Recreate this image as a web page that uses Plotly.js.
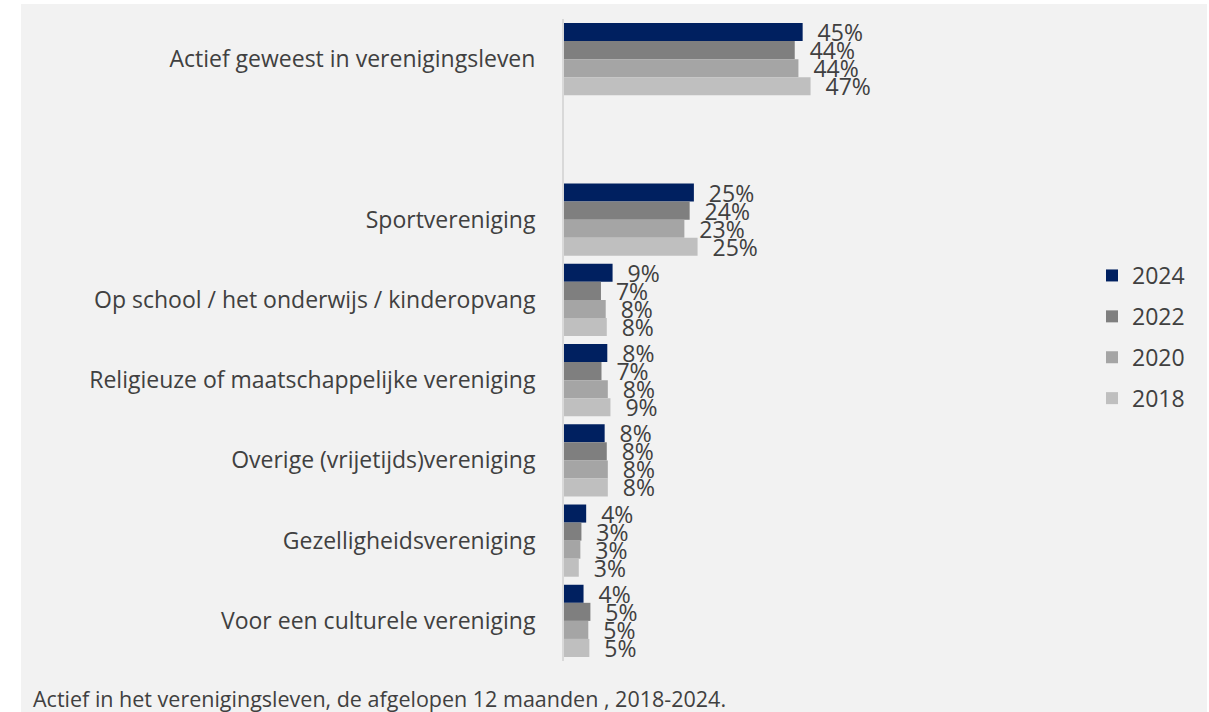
<!DOCTYPE html>
<html>
<head>
<meta charset="utf-8">
<script src="https://cdn.plot.ly/plotly-3.0.1.min.js"></script>
<style>
  html, body { margin: 0; padding: 0; background: #ffffff; }
  #bg { position: absolute; left: 21px; top: 4px; width: 1186px; height: 708px; background: #f2f2f2; }
  #chart { position: absolute; left: 0; top: 0; width: 1209px; height: 712px; }
</style>
</head>
<body>
<div id="bg"></div>
<div id="chart"></div>
<script>
const categories = [
  "Actief geweest in verenigingsleven",
  "Sportvereniging",
  "Op school / het onderwijs / kinderopvang",
  "Religieuze of maatschappelijke vereniging",
  "Overige (vrijetijds)vereniging",
  "Gezelligheidsvereniging",
  "Voor een culturele vereniging"
];
const years = ["2024", "2022", "2020", "2018"];
const values2024 = [45.2, 24.6, 9.2, 8.2, 7.7, 4.2, 3.7];
const values2022 = [43.7, 23.8, 7.0, 7.1, 8.1, 3.3, 5.0];
const values2020 = [44.4, 22.8, 7.9, 8.3, 8.3, 3.1, 4.6];
const values2018 = [46.7, 25.3, 8.1, 8.8, 8.3, 2.8, 4.8];
const colors = ["#002060", "#7f7f7f", "#a5a5a5", "#bfbfbf"];
const caption = "Actief in het verenigingsleven, de afgelopen 12 maanden , 2018-2024.";

const series = [values2024, values2022, values2020, values2018];
const spacer = " ";
const categoryOrder = [categories[0], spacer].concat(categories.slice(1));

const traces = series.map((vals, i) => ({
  type: "bar",
  orientation: "h",
  name: years[i],
  legendgroup: years[i],
  x: vals,
  y: categories,
  marker: { color: colors[i], line: { width: 0 } },
  texttemplate: "  %{x:.0f}%",
  textposition: "outside",
  constraintext: "none",
  cliponaxis: false,
  textfont: { family: "Open Sans, sans-serif", size: 23, color: "#404040" },
  hoverinfo: "skip"
}));

const layout = {
  width: 1209,
  height: 712,
  paper_bgcolor: "rgba(0,0,0,0)",
  plot_bgcolor: "rgba(0,0,0,0)",
  margin: { l: 564, r: 115, t: 19, b: 51 },
  barmode: "group",
  bargap: 0.1,
  bargroupgap: 0,
  uniformtext: { mode: false },
  font: { family: "Open Sans, sans-serif", size: 23, color: "#404040" },
  title: {
    text: caption,
    xref: "container", yref: "container",
    x: 33 / 1209, y: 1 - 699 / 712,
    xanchor: "left", yanchor: "middle",
    font: { family: "Open Sans, sans-serif", size: 21.5, color: "#404040" }
  },
  xaxis: {
    range: [0, 100],
    showticklabels: false,
    showgrid: false,
    zeroline: false,
    showline: false,
    fixedrange: true
  },
  yaxis: {
    type: "category",
    categoryorder: "array",
    categoryarray: categoryOrder,
    autorange: "reversed",
    showline: true,
    linecolor: "#d9d9d9",
    linewidth: 2,
    ticks: "",
    ticklabelstandoff: 22,
    showgrid: false,
    zeroline: false,
    tickfont: { family: "Open Sans, sans-serif", size: 23, color: "#404040" }
  },
  legend: {
    xref: "container", yref: "container",
    x: 1092 / 1209, y: 1 - 337 / 712,
    xanchor: "left", yanchor: "middle",
    traceorder: "grouped",
    tracegroupgap: 8,
    bgcolor: "rgba(0,0,0,0)",
    font: { family: "Open Sans, sans-serif", size: 23, color: "#404040" },
    itemwidth: 30
  },
  showlegend: true
};

Plotly.newPlot("chart", traces, layout, { displayModeBar: false, staticPlot: true });
</script>
</body>
</html>
